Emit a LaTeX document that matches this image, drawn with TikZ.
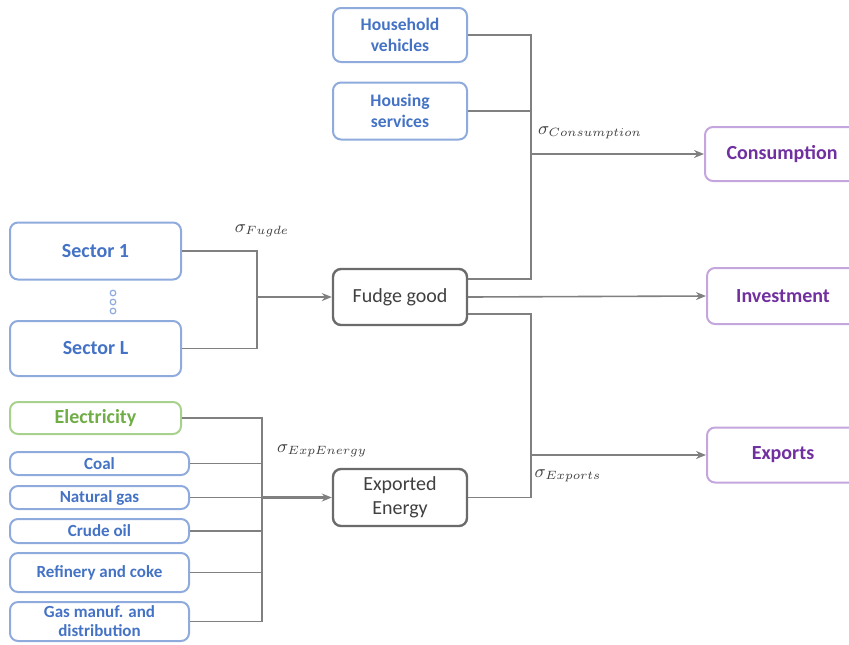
\documentclass[tikz,border=0pt]{standalone}
\usepackage{fontspec}
\setmainfont{Carlito}
\usetikzlibrary{arrows.meta}
\definecolor{blueline}{RGB}{143,170,220}
\definecolor{bluetext}{RGB}{68,114,196}
\definecolor{greenline}{RGB}{169,209,142}
\definecolor{greentext}{RGB}{112,173,71}
\definecolor{purpline}{RGB}{196,165,222}
\definecolor{purptext}{RGB}{112,48,160}
\definecolor{linkgray}{RGB}{128,128,128}
\tikzset{
  box/.style={draw, rounded corners=4pt, line width=1pt, align=center, inner sep=1pt},
  inbox/.style={box, draw=blueline, text=bluetext, font=\bfseries\fontsize{10}{11}\selectfont},
  hhbox/.style={box, draw=blueline, text=bluetext, font=\bfseries\fontsize{8.8}{10.5}\selectfont},
  fuelbox/.style={box, draw=blueline, text=bluetext, font=\bfseries\fontsize{8.5}{9.5}\selectfont},
  outbox/.style={box, draw=purpline, text=purptext, font=\bfseries\fontsize{10}{11}\selectfont},
  midbox/.style={box, draw=black!58, text=black!75, line width=1.2pt, font=\fontsize{10}{12}\selectfont},
  link/.style={draw=linkgray, line width=0.8pt},
  arr/.style={link, -{Stealth[length=5pt,width=4pt]}},
  sig/.style={text=black!75, font=\fontsize{9}{11}\selectfont}
}
\begin{document}
\begin{tikzpicture}[x=0.5pt, y=-0.5pt]
		%%%%% START %%%%%
		\clip (0, 0) rectangle (849, 644);
		
		% household side
		\node[hhbox, minimum width=67pt, minimum height=27pt] (hveh) at (400, 35) {Household\\vehicles};
		\node[hhbox, minimum width=67pt, minimum height=28.5pt] (hsrv) at (400, 111) {Housing\\services};
		
		% final demand
		\node[outbox, minimum width=77pt, minimum height=27pt] (cons) at (782, 154) {Consumption};
		\node[outbox, minimum width=76pt, minimum height=28pt] (inv) at (783, 296) {Investment};
		\node[outbox, minimum width=76pt, minimum height=27.5pt] (expo) at (783, 455) {Exports};
		
		% composites
		\node[midbox, minimum width=67pt, minimum height=28pt] (fudge) at (400, 297) {Fudge good};
		\node[midbox, minimum width=67pt, minimum height=28.5pt] (expen) at (400, 497.5) {Exported\\Energy};
		
		% sectors
		\node[inbox, minimum width=85.5pt, minimum height=28.5pt] (sec1) at (95.5, 251) {Sector 1};
		\node[inbox, minimum width=85.5pt, minimum height=27.5pt] (secL) at (95.5, 348.5) {Sector L};
		\foreach \y in {293, 302, 311}
			\draw[blueline, line width=0.6pt] (113, \y) circle (1.4pt);
		
		% energy goods
		\node[box, draw=greenline, text=greentext, font=\bfseries\fontsize{10}{11}\selectfont, minimum width=85.5pt, minimum height=16pt] (elec) at (95.5, 418) {Electricity};
		\node[fuelbox, minimum width=89.5pt, minimum height=11.5pt] (coal) at (99.5, 463.5) {Coal};
		\node[fuelbox, minimum width=89.5pt, minimum height=11.5pt] (ngas) at (99.5, 497.5) {Natural gas};
		\node[fuelbox, minimum width=89.5pt, minimum height=12pt] (crude) at (99.5, 531) {Crude oil};
		\node[fuelbox, minimum width=89.5pt, minimum height=19.5pt] (refin) at (99.5, 572.5) {Refinery and coke};
		\node[fuelbox, minimum width=89.5pt, minimum height=19.5pt] (gasmf) at (99.5, 621.5) {Gas manuf. and\\distribution};
		
		% junctions
		\coordinate (jfug) at (257, 297);
		\coordinate (jexp) at (262, 497.5);
		\coordinate (jcon) at (531, 154);
		\coordinate (jexo) at (531, 455);
		
		\draw[link] (sec1.east) -| (jfug);
		\draw[link] (secL.east) -| (jfug);
		\draw[arr] (jfug) -- (fudge.west);
		
		\foreach \n in {elec, coal, ngas, crude, refin, gasmf}
			\draw[link] (\n.east) -| (jexp);
		\draw[arr, line width=1.1pt] (jexp) -- (expen.west);
		
		\draw[link] (hveh.east) -| (jcon);
		\draw[link] (hsrv.east) -| (jcon);
		\draw[link] ([yshift=9pt]fudge.east) -| (jcon);
		\draw[arr] (jcon) -- (cons.west);
		
		\draw[arr] (fudge.east) -- (inv.west);
		
		\draw[link] ([yshift=-8.5pt]fudge.east) -| (jexo);
		\draw[link] (expen.east) -| (jexo);
		\draw[arr] (jexo) -- (expo.west);
		
		% elasticities
		\node[sig] (sfug) at (262, 231) {$\sigma_{Fugde}$};
		\node[sig] (sexe) at (322, 451) {$\sigma_{ExpEnergy}$};
		\node[sig] (scon) at (590, 133) {$\sigma_{Consumption}$};
		\node[sig] (sexo) at (568, 476) {$\sigma_{Exports}$};
		
		%%%%% END %%%%%
	\end{tikzpicture}
\end{document}
